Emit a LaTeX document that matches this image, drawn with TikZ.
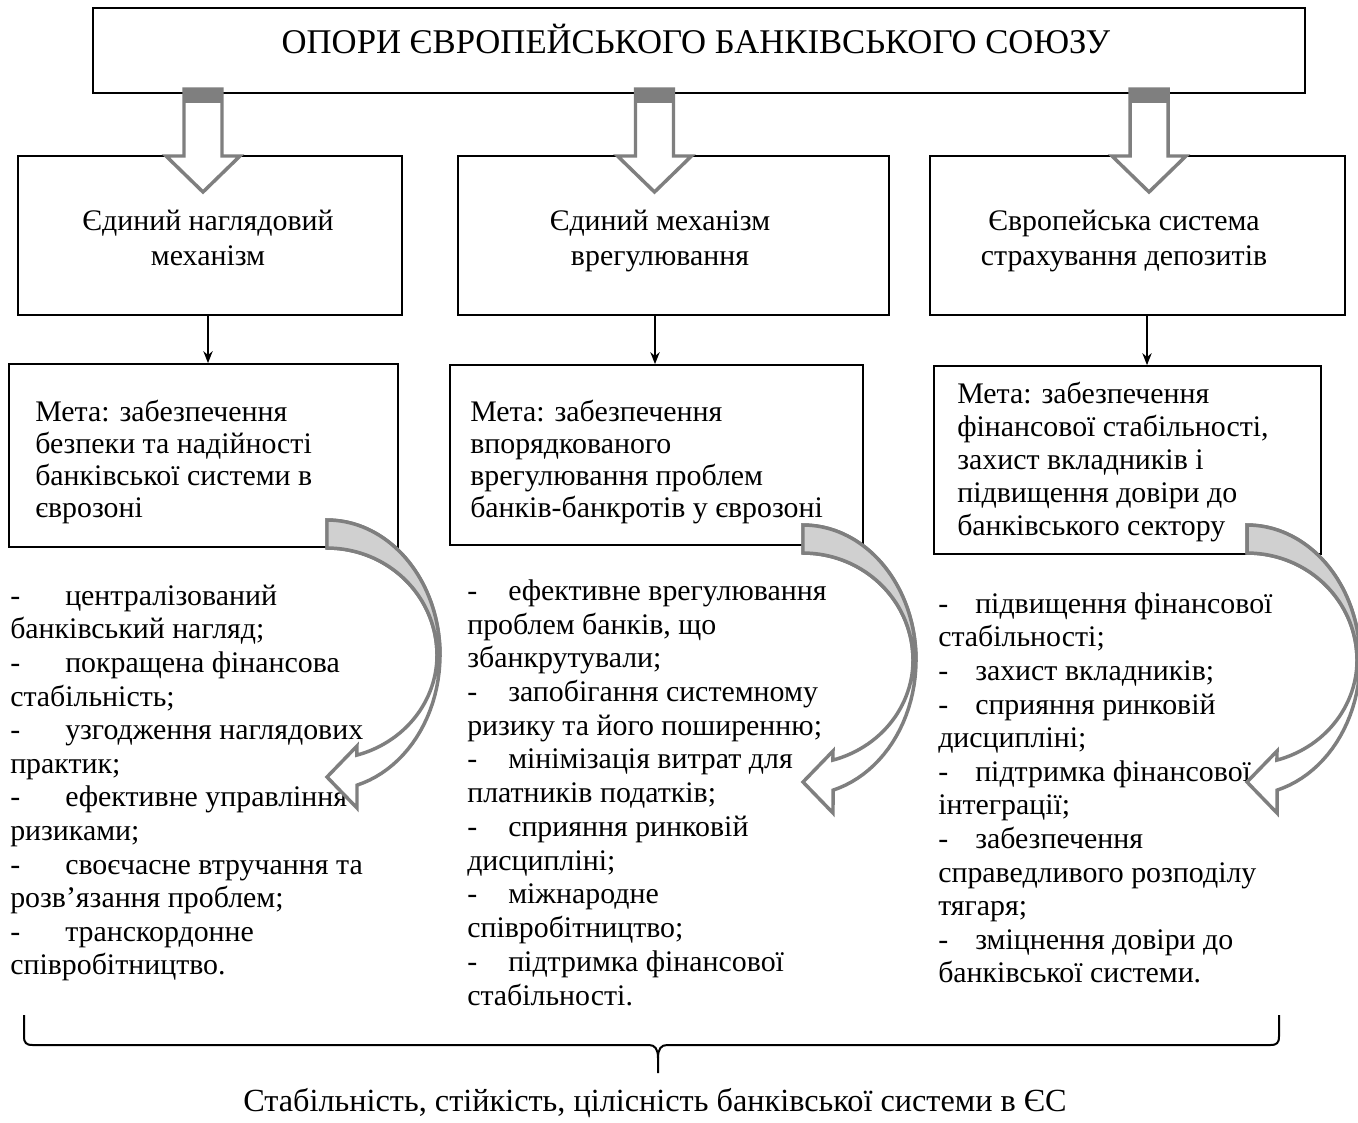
\documentclass[tikz,border=0pt]{standalone}
\usepackage{fontspec}
\setmainfont{Liberation Serif}
\usetikzlibrary{arrows.meta,fit}

\definecolor{arrowgray}{HTML}{7F7F7F}
\definecolor{crescentfill}{HTML}{D0D0D0}

% fixed first-line height so text blocks can be placed by their first baseline
\newcommand\tstrut{\rule{0pt}{18pt}}
\newcommand\dashitem[1]{\makebox[#1][l]{-}}

\tikzset{
  frame/.style={draw=black, line width=1.3pt, inner sep=0pt},
  body/.style={font=\fontsize{22.4}{25.2}\selectfont, inner sep=0pt, align=left, anchor=north west},
  head/.style={font=\fontsize{22.4}{26.25}\selectfont, inner sep=0pt, align=center, anchor=north},
  arrowline/.style={draw=arrowgray, line width=2.6pt, line join=miter},
  smallarrow/.style={draw=black, line width=1.1pt, -{Stealth[length=9pt,width=7pt]}},
  bracepath/.style={draw=black, line width=1.5pt},
  % hollow block arrow, origin at the top middle of the shaft
  blockarrow/.pic={
    \path[fill=white] (-19,0) -- (-19,67) -- (-37,67) -- (0,103) -- (37,67) -- (19,67) -- (19,0) -- cycle;
    \fill[arrowgray] (-19,0) rectangle (19,14);
    \draw[arrowline] (-19,0) -- (-19,67) -- (-37,67) -- (0,103) -- (37,67) -- (19,67) -- (19,0) -- cycle;
  },
  % curved left-pointing arrow, origin at the top of its flat tail
  curvedarrow/.pic={
    \draw[arrowline, fill=white]
      plot[domain=90:-74.6, samples=50] ({113*cos(\x)}, {135-135*sin(\x)})
      -- (30,288) -- (0,257) -- (30,226)
      -- plot[domain=-74.2:0, samples=30] ({110*cos(\x)}, {135-104*sin(\x)})
      -- plot[domain=0:90, samples=30] ({110*cos(\x)}, {135-107*sin(\x)})
      -- cycle;
    \draw[arrowline, fill=crescentfill]
      plot[domain=90:0, samples=40] ({113*cos(\x)}, {135-135*sin(\x)})
      -- plot[domain=0:90, samples=40] ({110*cos(\x)}, {135-107*sin(\x)})
      -- cycle;
  },
}

\begin{document}
\begin{tikzpicture}[x=0.75pt, y=-0.75pt]
\useasboundingbox[fill=white] (0,0) rectangle (1358,1122);

% ---- frames ----
\node[frame, fit={(93,8) (1305,93)}] (T) {};
\node[frame, fit={(18,156) (402,315)}] (B1) {};
\node[frame, fit={(458,156) (889,315)}] (B2) {};
\node[frame, fit={(930,156) (1345,315)}] (B3) {};
\node[frame, fit={(9,364) (398,547)}] (C1) {};
\node[frame, fit={(450,365) (863,545)}] (C2) {};
\node[frame, fit={(934,366) (1321,554)}] (C3) {};

% ---- title ----
\node[font=\fontsize{26}{30}\selectfont, inner sep=0pt, anchor=base] (title) at (696,53)
  {ОПОРИ ЄВРОПЕЙСЬКОГО БАНКІВСЬКОГО СОЮЗУ};

% ---- pillar names ----
\node[head] (b1text) at (208,206) {\tstrut Єдиний наглядовий\\механізм};
\node[head] (b2text) at (660,206) {\tstrut Єдиний механізм\\врегулювання};
\node[head] (b3text) at (1124,206) {\tstrut Європейська система\\страхування депозитів};

% ---- goals ----
\node[body, font=\fontsize{22.4}{24}\selectfont] (c1text) at (35,397)
  {\tstrut Мета: забезпечення\\безпеки та надійності\\банківської системи в\\єврозоні};
\node[body, font=\fontsize{22.4}{24}\selectfont] (c2text) at (470,397)
  {\tstrut Мета: забезпечення\\впорядкованого\\врегулювання проблем\\банків-банкротів у єврозоні};
\node[body, font=\fontsize{22.4}{24.75}\selectfont] (c3text) at (957,379)
  {\tstrut Мета: забезпечення\\фінансової стабільності,\\захист вкладників і\\підвищення довіри до\\банківського сектору};

% ---- outcome lists ----
\node[body] (list1) at (10,581) {\tstrut
  \dashitem{41.25pt}централізований\\
  банківський нагляд;\\
  \dashitem{41.25pt}покращена фінансова\\
  стабільність;\\
  \dashitem{41.25pt}узгодження наглядових\\
  практик;\\
  \dashitem{41.25pt}ефективне управління\\
  ризиками;\\
  \dashitem{41.25pt}своєчасне втручання та\\
  розв’язання проблем;\\
  \dashitem{41.25pt}транскордонне\\
  співробітництво.};

\node[body, font=\fontsize{22.4}{25.3}\selectfont] (list2) at (467,576) {\tstrut
  \dashitem{30.75pt}ефективне врегулювання\\
  проблем банків, що\\
  збанкрутували;\\
  \dashitem{30.75pt}запобігання системному\\
  ризику та його поширенню;\\
  \dashitem{30.75pt}мінімізація витрат для\\
  платників податків;\\
  \dashitem{30.75pt}сприяння ринковій\\
  дисципліні;\\
  \dashitem{30.75pt}міжнародне\\
  співробітництво;\\
  \dashitem{30.75pt}підтримка фінансової\\
  стабільності.};

\node[body] (list3) at (938,589) {\tstrut
  \dashitem{27.75pt}підвищення фінансової\\
  стабільності;\\
  \dashitem{27.75pt}захист вкладників;\\
  \dashitem{27.75pt}сприяння ринковій\\
  дисципліні;\\
  \dashitem{27.75pt}підтримка фінансової\\
  інтеграції;\\
  \dashitem{27.75pt}забезпечення\\
  справедливого розподілу\\
  тягаря;\\
  \dashitem{27.75pt}зміцнення довіри до\\
  банківської системи.};

% ---- hollow block arrows from the title frame ----
\pic at (203,89) {blockarrow};
\pic at (654.5,89) {blockarrow};
\pic at (1149,89) {blockarrow};

% ---- pillar -> goal arrows ----
\coordinate (a1) at (208,0);
\coordinate (a2) at (655,0);
\coordinate (a3) at (1147,0);
\draw[smallarrow] (B1.south -| a1) -- (C1.north -| a1);
\draw[smallarrow] (B2.south -| a2) -- (C2.north -| a2);
\draw[smallarrow] (B3.south -| a3) -- (C3.north -| a3);

% ---- curved arrows from goals to outcomes ----
\pic at (327,520) {curvedarrow};
\pic at (803,525) {curvedarrow};
\pic at (1247,525) {curvedarrow};

% ---- brace and conclusion ----
\coordinate (bl) at (24,1015);
\coordinate (br) at (1279,1015);
\coordinate (bm) at (658,1073);
\draw[bracepath] (bl) -- (24,1036) .. controls (24,1043) and (26,1045) .. (33,1045)
  -- (649,1045) .. controls (655,1045) and (658,1049) .. (658,1058) -- (bm);
\draw[bracepath] (br) -- (1279,1036) .. controls (1279,1043) and (1277,1045) .. (1270,1045)
  -- (667,1045) .. controls (661,1045) and (658,1049) .. (658,1058);

\node[font=\fontsize{24.2}{28}\selectfont, inner sep=0pt, anchor=base] (concl) at (655,1111)
  {Стабільність, стійкість, цілісність банківської системи в ЄС};
\end{tikzpicture}
\end{document}
